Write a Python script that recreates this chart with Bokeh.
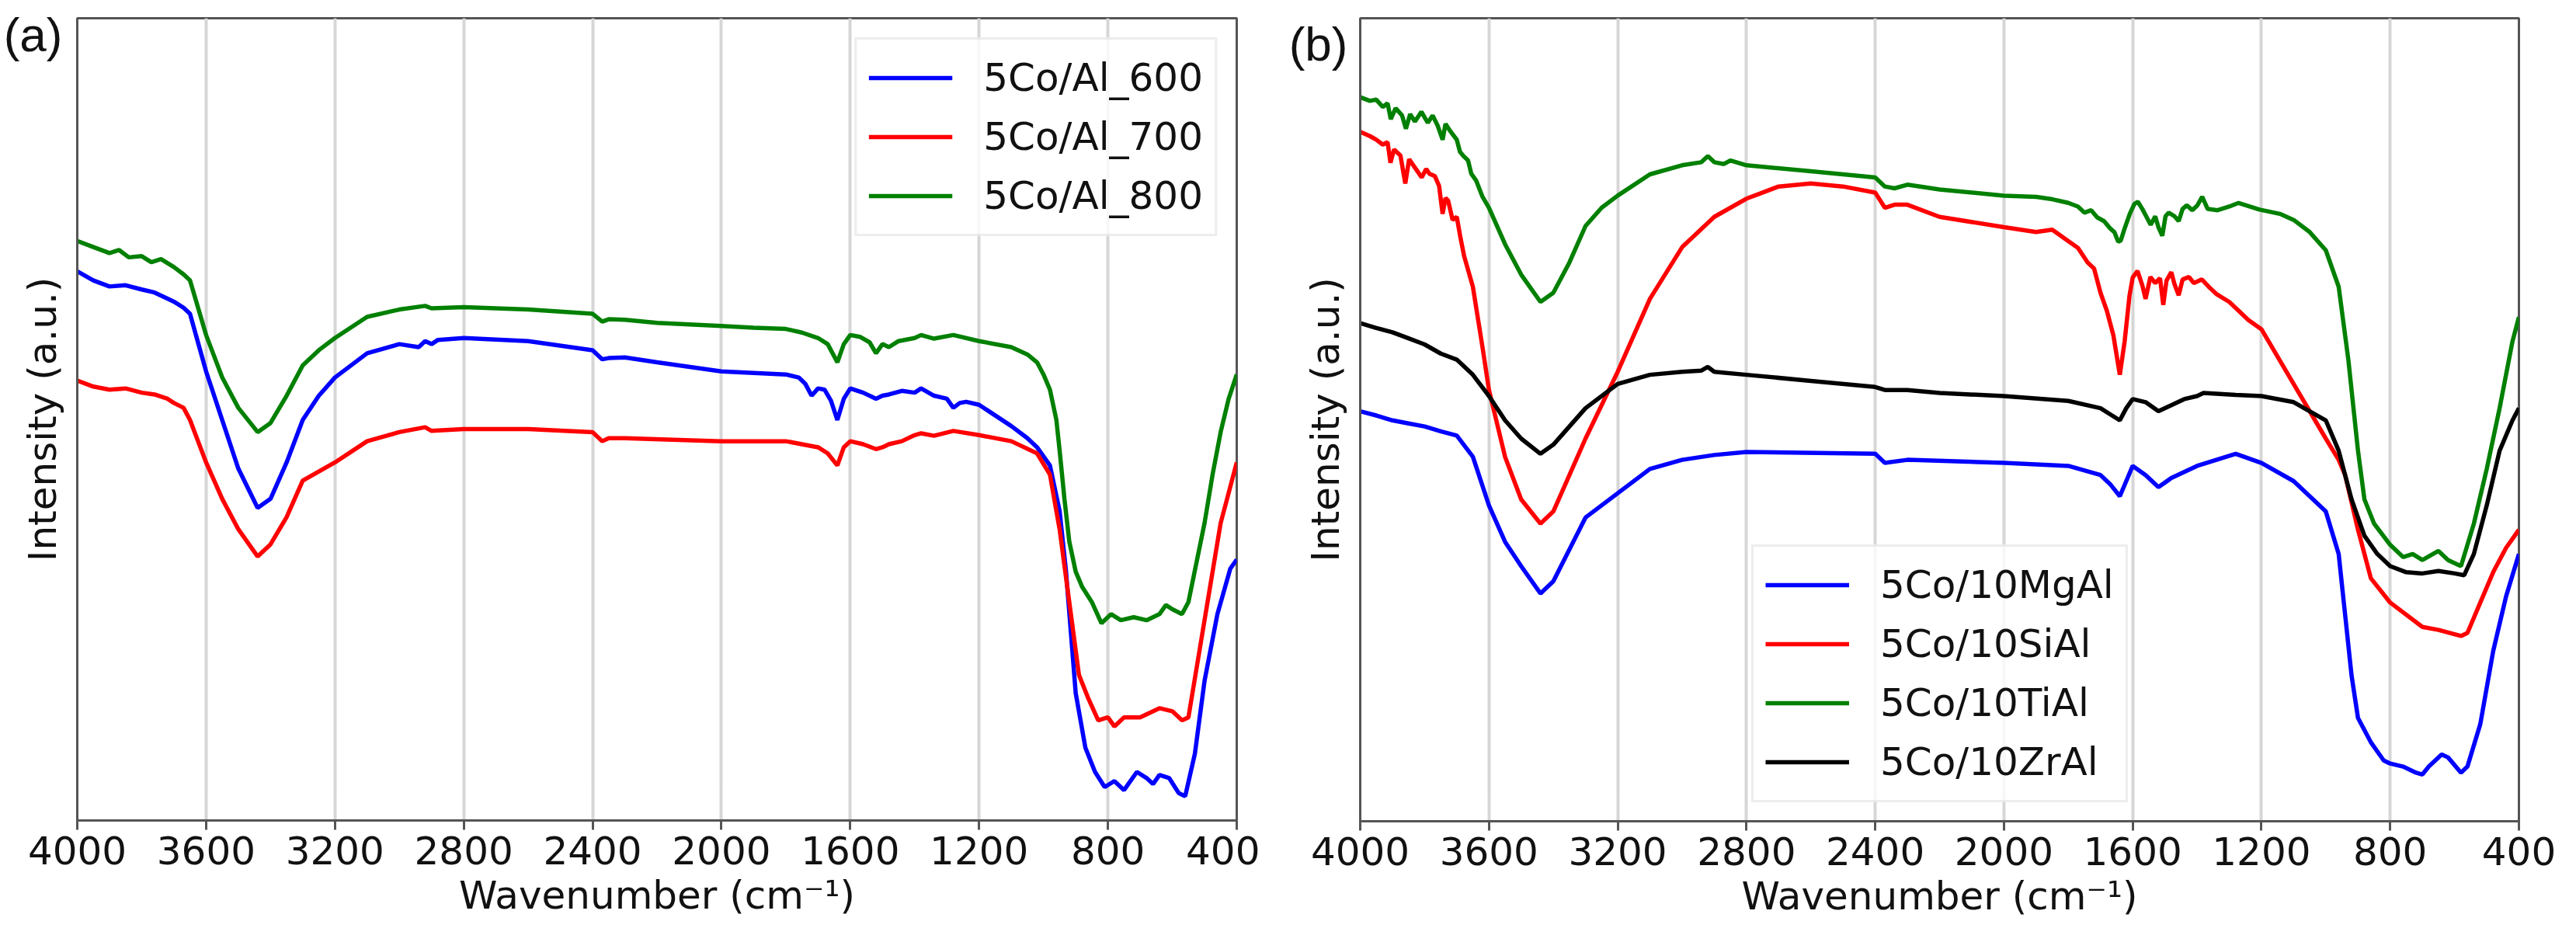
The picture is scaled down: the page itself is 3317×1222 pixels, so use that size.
from bokeh.plotting import figure
from bokeh.layouts import row
from bokeh.models import Range1d, FixedTicker
from bokeh.embed import file_html
from bokeh.resources import INLINE

# ---- panel (a): calcination temperature series, wavenumber (cm-1) / intensity (a.u.)
wn_a800 = [4000, 3950, 3900, 3870, 3840, 3800, 3770, 3740, 3700, 3670, 3650, 3600, 3550, 3500,
           3440, 3400, 3350, 3300, 3250, 3200, 3100, 3000, 2920, 2900, 2800, 2600, 2400, 2370,
           2350, 2300, 2200, 2000, 1900, 1800, 1750, 1700, 1670, 1640, 1620, 1600, 1570, 1540,
           1520, 1500, 1480, 1450, 1400, 1380, 1340, 1280, 1200, 1100, 1050, 1020, 1000, 980,
           960, 950, 935, 920, 900, 880, 850, 820, 790, 760, 720, 680, 640, 620, 600, 570, 550,
           525, 500, 475, 450, 425, 400]
int_a800 = [95.5, 94.5, 93.5, 94, 92.8, 93, 92, 92.5, 91.2, 90, 89, 80, 73, 68,
            64, 65.5, 70, 75, 77.5, 79.5, 83, 84.2, 84.8, 84.4, 84.6, 84.2, 83.5, 82.2,
            82.6, 82.5, 82, 81.5, 81.2, 81, 80.4, 79.5, 78.5, 75.5, 78.5, 80, 79.7, 78.8,
            77, 78.5, 78, 79, 79.5, 80, 79.4, 80, 79, 78, 76.8, 75.5, 73.5, 71,
            66, 61, 53, 46, 41, 38.5, 36, 32.5, 34, 33, 33.5, 33, 34, 35.5, 34.8, 34, 36,
            42.5, 49, 57, 64, 69.5, 73.5]

wn_a600 = [4000, 3950, 3900, 3850, 3800, 3760, 3720, 3700, 3670, 3650, 3600, 3550, 3500, 3440,
           3400, 3350, 3300, 3250, 3200, 3100, 3000, 2940, 2920, 2900, 2880, 2800, 2600, 2400,
           2370, 2350, 2300, 2200, 2000, 1800, 1760, 1740, 1720, 1700, 1680, 1660, 1640, 1620,
           1600, 1560, 1520, 1500, 1480, 1440, 1400, 1380, 1340, 1300, 1280, 1260, 1240, 1200,
           1100, 1050, 1020, 980, 950, 930, 900, 870, 840, 810, 780, 750, 710, 680, 660, 640,
           610, 580, 560, 530, 500, 460, 420, 400]
int_a600 = [90.5, 89, 88, 88.2, 87.5, 87, 86, 85.5, 84.5, 83.5, 74, 66, 58, 51.5,
            53, 59, 66, 70, 73, 77, 78.5, 78, 79, 78.5, 79.2, 79.5, 79, 77.5,
            76, 76.2, 76.3, 75.5, 74, 73.5, 73, 72, 70, 71.2, 71, 69.2, 66, 69.5,
            71.2, 70.5, 69.5, 70, 70.2, 70.8, 70.5, 71.2, 70, 69.5, 68, 68.8, 69, 68.5,
            65, 63, 61.5, 58.5, 51, 41, 21, 12, 8, 5.5, 6.5, 5, 8, 7, 6, 7.5,
            7, 4.5, 4, 11, 23, 34, 41.5, 43]

wn_a700 = [4000, 3950, 3900, 3850, 3800, 3760, 3720, 3700, 3670, 3650, 3600, 3550, 3500, 3440,
           3400, 3350, 3300, 3250, 3200, 3100, 3000, 2920, 2900, 2800, 2600, 2400, 2370, 2350,
           2300, 2000, 1800, 1700, 1670, 1640, 1620, 1600, 1560, 1520, 1500, 1480, 1440, 1400,
           1380, 1340, 1280, 1200, 1100, 1020, 980, 950, 920, 890, 860, 830, 800, 780, 750,
           700, 640, 600, 570, 550, 500, 450, 400]
int_a700 = [72.5, 71.5, 71, 71.2, 70.5, 70.2, 69.5, 68.8, 68, 66, 59, 53, 48, 43.5,
            45.5, 50, 56, 57.5, 59, 62.5, 64, 64.8, 64.2, 64.5, 64.5, 64, 62.5, 63,
            63, 62.5, 62.5, 61.5, 60.5, 58.5, 61.5, 62.5, 62, 61.2, 61.5, 62, 62.5, 63.5,
            63.8, 63.4, 64.2, 63.5, 62.5, 60.5, 57, 48, 36, 24, 20, 16.5, 17, 15.5, 17,
            17, 18.5, 18, 16.5, 17, 33, 49, 59]

# ---- panel (b): promoter series
wn_bTi = [4000, 3970, 3950, 3930, 3915, 3905, 3890, 3870, 3858, 3845, 3830, 3810, 3790, 3775,
          3760, 3744, 3735, 3720, 3700, 3690, 3679, 3665, 3655, 3640, 3620, 3600, 3550, 3500,
          3440, 3400, 3350, 3300, 3250, 3200, 3100, 3000, 2940, 2920, 2900, 2870, 2850, 2800,
          2600, 2400, 2370, 2340, 2300, 2200, 2000, 1900, 1850, 1800, 1770, 1750, 1729, 1710,
          1689, 1670, 1657, 1645, 1637, 1625, 1609, 1595, 1584, 1570, 1560, 1544, 1530, 1520,
          1508, 1498, 1488, 1470, 1457, 1445, 1432, 1415, 1399, 1384, 1367, 1336, 1300, 1271,
          1206, 1143, 1100, 1050, 1000, 960, 930, 900, 880, 850, 800, 760, 730, 700, 650, 620,
          580, 540, 500, 460, 420, 400]
int_bTi = [119.2, 118.6, 118.8, 117.6, 118.2, 115.6, 117.4, 116.2, 114.0, 116.4, 115.2, 116.8,
           115.0, 116.2, 114.6, 112.2, 114.8, 113.6, 112.2, 110.2, 109.5, 108.8, 106.6, 105.5,
           102.8, 101, 95, 90, 85.5, 87, 92, 98, 101, 103, 106.5, 108, 108.5, 109.5, 108.5,
           108.2, 108.8, 108, 107, 106, 104.5, 104.2, 104.8, 104, 103, 102.8, 102.4, 101.8,
           101.2, 100.2, 100.6, 99.4, 98.8, 97.6, 97.0, 95.4, 95.6, 97.6, 100.0, 101.6, 102.0,
           100.8, 99.8, 98.2, 99.6, 97.8, 96.4, 99.6, 100.2, 99.6, 98.8, 100.8, 101.4, 100.6,
           101.4, 102.8, 100.8, 100.6, 101.2, 101.8, 100.7, 100, 99, 97, 94, 88, 76, 61, 53,
           49, 45.5, 43.5, 44, 43, 44.5, 43, 42, 49, 58, 68, 79, 83]

wn_bSi = [4000, 3970, 3950, 3930, 3915, 3906, 3895, 3875, 3860, 3848, 3830, 3809, 3795, 3785,
          3768, 3755, 3744, 3735, 3727, 3713, 3700, 3689, 3677, 3650, 3620, 3600, 3550, 3500,
          3440, 3400, 3300, 3200, 3100, 3000, 2900, 2800, 2700, 2600, 2500, 2400, 2370, 2340,
          2300, 2200, 2000, 1900, 1850, 1800, 1770, 1740, 1720, 1700, 1680, 1660, 1640, 1625,
          1610, 1600, 1585, 1570, 1560, 1545, 1530, 1515, 1505, 1495, 1480, 1470, 1457, 1445,
          1425, 1410, 1385, 1360, 1340, 1300, 1240, 1200, 1100, 1000, 960, 940, 900, 860, 800,
          700, 650, 580, 560, 520, 480, 440, 400]
int_bSi = [113.5, 112.8, 112.2, 111.4, 111.8, 108.4, 110.6, 109.6, 105.0, 109.0, 107.6, 106.0,
           107.4, 106.6, 106.2, 104.6, 100.0, 102.6, 102.2, 99.0, 99.5, 96.2, 93.0, 88, 78, 71,
           60, 53, 49, 51, 63, 74, 86, 94.5, 99.5, 102.5, 104.5, 105, 104.5, 103.5, 101, 101.5,
           101.5, 99.5, 97.8, 97, 97.4, 95.5, 94.4, 92, 91, 87, 84, 80, 73.5, 79,
           86.5, 89.5, 90.6, 88.2, 86.0, 89.6, 88.6, 89.4, 85.0, 89.0, 90.4, 88.4, 86.6, 89.2,
           89.6, 88.6, 89.2, 87.8, 86.8, 85.5, 82.5, 81, 72, 63, 59.5, 57, 48, 40, 36,
           32, 31.5, 30.5, 31, 36, 41, 45, 48]

wn_bZr = [4000, 3950, 3900, 3850, 3800, 3750, 3700, 3650, 3600, 3550, 3500, 3440, 3400, 3300,
          3200, 3100, 3000, 2940, 2920, 2900, 2800, 2600, 2400, 2370, 2300, 2200, 2000, 1800,
          1700, 1670, 1640, 1620, 1600, 1560, 1520, 1480, 1440, 1400, 1380, 1280, 1200, 1100,
          1000, 960, 920, 880, 840, 800, 750, 700, 650, 600, 570, 540, 500, 460, 420, 400]
int_bZr = [82, 81.2, 80.5, 79.5, 78.5, 77, 76, 73.5, 70, 66, 63, 60.5, 62, 68,
           72, 73.5, 74, 74.2, 74.8, 74, 73.5, 72.5, 71.5, 71, 71, 70.5, 70, 69.2,
           68, 67, 66, 68, 69.5, 69, 67.5, 68.5, 69.5, 70, 70.5, 70.2, 70, 69,
           66, 61, 53, 47, 44, 42, 41, 40.8, 41.2, 40.8, 40.5, 44, 52, 61, 66, 68]

wn_bMg = [4000, 3950, 3900, 3850, 3800, 3750, 3700, 3650, 3600, 3550, 3500, 3440, 3400, 3300,
          3200, 3100, 3000, 2900, 2800, 2400, 2370, 2300, 2000, 1800, 1700, 1670, 1640, 1620,
          1600, 1560, 1520, 1480, 1440, 1400, 1280, 1200, 1100, 1000, 960, 940, 920, 900,
          860, 820, 800, 760, 720, 700, 680, 640, 620, 580, 560, 520, 480, 440, 400]
int_bMg = [67.5, 66.8, 66, 65.5, 65, 64.2, 63.5, 60, 52, 46, 42, 37.5, 39.5, 50,
           54, 58, 59.5, 60.3, 60.8, 60.5, 59, 59.5, 59, 58.5, 57, 55.5, 53.5, 56,
           58.5, 57, 55, 56.5, 57.5, 58.5, 60.5, 59, 56, 51, 44, 34, 24, 17,
           13, 10, 9.5, 9, 8, 7.7, 9, 11, 10.5, 8, 9, 16, 28, 37, 44]

tick_values = [4000, 3600, 3200, 2800, 2400, 2000, 1600, 1200, 800, 400]

FONT = "DejaVu Sans"
SPINE = "#555555"
TEXT = "#111111"


def make_panel(left, right, top, bottom, fw, fh, tag, tag_y, tag_standoff, ylab_standoff):
    p = figure(frame_width=fw, frame_height=fh,
               min_border_left=left, min_border_right=right,
               min_border_top=top, min_border_bottom=bottom,
               x_range=Range1d(4000, 400), y_range=Range1d(0, 132.2),
               output_backend="svg", toolbar_location=None)
    p.outline_line_color = SPINE
    p.outline_line_width = 3
    p.background_fill_color = "white"
    p.border_fill_color = "white"

    p.ygrid.visible = False
    p.xgrid.ticker = FixedTicker(ticks=tick_values)
    p.xgrid.grid_line_color = "#d6d6d6"
    p.xgrid.grid_line_width = 4

    xa = p.xaxis[0]
    xa.ticker = FixedTicker(ticks=tick_values)
    xa.axis_label = "Wavenumber (cm\u207b\u00b9)"
    xa.axis_label_text_font = FONT
    xa.axis_label_text_font_size = "50px"
    xa.axis_label_text_font_style = "normal"
    xa.axis_label_text_color = TEXT
    xa.axis_label_standoff = 8
    xa.major_label_text_font = FONT
    xa.major_label_text_font_size = "50px"
    xa.major_label_text_color = TEXT
    xa.major_label_standoff = 8
    xa.axis_line_color = SPINE
    xa.axis_line_width = 3
    xa.major_tick_line_color = SPINE
    xa.major_tick_line_width = 3
    xa.major_tick_out = 12
    xa.major_tick_in = 0
    xa.minor_tick_out = 0
    xa.minor_tick_in = 0

    # the y axis has no ticks; its single tick label carries the panel tag
    ya = p.yaxis[0]
    ya.ticker = FixedTicker(ticks=[tag_y])
    ya.major_label_overrides = {tag_y: tag}
    ya.major_label_orientation = "horizontal"
    ya.major_label_text_font = "Liberation Sans"
    ya.major_label_text_font_size = "62px"
    ya.major_label_text_color = TEXT
    ya.major_label_standoff = tag_standoff
    ya.axis_label = "Intensity (a.u.)"
    ya.axis_label_text_font = FONT
    ya.axis_label_text_font_size = "50px"
    ya.axis_label_text_font_style = "normal"
    ya.axis_label_text_color = TEXT
    ya.axis_label_standoff = ylab_standoff
    ya.axis_line_color = SPINE
    ya.axis_line_width = 3
    ya.major_tick_out = 0
    ya.major_tick_in = 0
    ya.minor_tick_out = 0
    ya.minor_tick_in = 0
    return p


def style_legend(p):
    lg = p.legend[0]
    lg.label_text_font = FONT
    lg.label_text_font_size = "50px"
    lg.label_text_color = TEXT
    lg.glyph_width = 108
    lg.glyph_height = 68
    lg.label_height = 68
    lg.label_standoff = 40
    lg.padding = 15
    lg.spacing = 8
    lg.border_line_color = "#dcdcdc"
    lg.border_line_width = 3
    lg.background_fill_color = "white"
    lg.background_fill_alpha = 0.8
    return lg


LW = 5.5

pa = make_panel(99, 30, 21, 152, 1493, 1033, "(a)", 129.5, 19, -82)
pa.line(wn_a600, int_a600, color="#0000ff", line_width=LW, legend_label="5Co/Al_600")
pa.line(wn_a700, int_a700, color="#ff0000", line_width=LW, legend_label="5Co/Al_700")
pa.line(wn_a800, int_a800, color="#008000", line_width=LW, legend_label="5Co/Al_800")
lga = style_legend(pa)
lga.location = "top_right"
lga.margin = 25

pb = make_panel(129, 58, 23, 149, 1492, 1034, "(b)", 128, 16, -79)
pb.line(wn_bMg, int_bMg, color="#0000ff", line_width=LW, legend_label="5Co/10MgAl")
pb.line(wn_bSi, int_bSi, color="#ff0000", line_width=LW, legend_label="5Co/10SiAl")
pb.line(wn_bTi, int_bTi, color="#008000", line_width=LW, legend_label="5Co/10TiAl")
pb.line(wn_bZr, int_bZr, color="#000000", line_width=LW, legend_label="5Co/10ZrAl")
lgb = style_legend(pb)
lgb.location = (504, 24)
lgb.margin = 0

layout = row(pa, pb)
open("out.html", "w").write(file_html(layout, INLINE))
